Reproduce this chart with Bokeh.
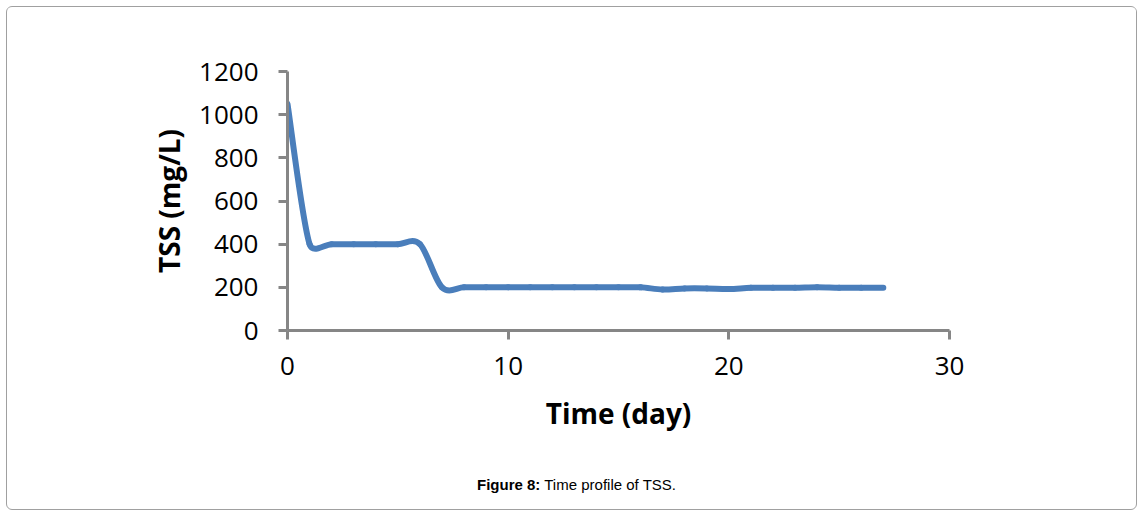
import math
from bokeh.plotting import figure
from bokeh.layouts import column
from bokeh.models import FixedTicker, Range1d, Div
from bokeh.embed import file_html
from bokeh.resources import INLINE

# ---- data ----
days = [0, 1, 2, 3, 4, 5, 6, 7, 8, 9, 10, 11, 12, 13, 14, 15, 16, 17, 18, 19,
        20, 21, 22, 23, 24, 25, 26, 27]
tss = [1050, 400, 400, 400, 400, 400, 400, 200, 200, 200, 200, 200, 200, 200,
       200, 200, 200, 190, 195, 195, 192, 198, 198, 198, 200, 198, 198, 198]
x_ticks = [0, 10, 20, 30]
y_ticks = [0, 200, 400, 600, 800, 1000, 1200]
x_title = "Time (day)"
y_title = "TSS (mg/L)"
caption_bold = "Figure 8:"
caption_text = "Time profile of TSS."

# ---- geometry ----
FIG_W, FIG_H = 1129, 460
CAP_H = 42
FL, FR, FT, FB = 280, 942, 64, 323
X0, X1, Y0, Y1 = 0, 30, 0, 1200
sx = (FR - FL) / (X1 - X0)
sy = (FB - FT) / (Y1 - Y0)

p = figure(width=FIG_W, height=FIG_H, output_backend="svg", toolbar_location=None,
           x_range=Range1d(X0, X1), y_range=Range1d(Y0, Y1),
           min_border_left=FL, min_border_right=FIG_W - FR,
           min_border_top=FT, min_border_bottom=FIG_H - FB)
p.outline_line_color = None
p.grid.grid_line_color = None
p.background_fill_color = "white"
p.border_fill_color = "white"

# Excel-like smoothed line: Bezier segments, control points computed in pixel space
px = [d * sx for d in days]
py = [v * sy for v in tss]
n = len(days)
seg = dict(x0=[], y0=[], x1=[], y1=[], cx0=[], cy0=[], cx1=[], cy1=[])
for i in range(n - 1):
    i0 = max(i - 1, 0)
    i3 = min(i + 2, n - 1)
    P0 = (px[i0], py[i0]); P1 = (px[i], py[i]); P2 = (px[i + 1], py[i + 1]); P3 = (px[i3], py[i3])
    d12 = math.hypot(P2[0] - P1[0], P2[1] - P1[1])
    d02 = math.hypot(P2[0] - P0[0], P2[1] - P0[1])
    d13 = math.hypot(P3[0] - P1[0], P3[1] - P1[1])
    f1 = 1 / 6 if d02 / 6 < d12 / 2 else (d12 / 2) / d02
    f2 = 1 / 6 if d13 / 6 < d12 / 2 else (d12 / 2) / d13
    c1 = (P1[0] + f1 * (P2[0] - P0[0]), P1[1] + f1 * (P2[1] - P0[1]))
    c2 = (P2[0] - f2 * (P3[0] - P1[0]), P2[1] - f2 * (P3[1] - P1[1]))
    seg["x0"].append(days[i]); seg["y0"].append(tss[i])
    seg["x1"].append(days[i + 1]); seg["y1"].append(tss[i + 1])
    seg["cx0"].append(c1[0] / sx); seg["cy0"].append(c1[1] / sy)
    seg["cx1"].append(c2[0] / sx); seg["cy1"].append(c2[1] / sy)

p.bezier(x0="x0", y0="y0", x1="x1", y1="y1", cx0="cx0", cy0="cy0", cx1="cx1", cy1="cy1",
         source=seg, line_color="#4a7ebb", line_width=6, line_cap="round", line_join="round")

# axes
for ax in (p.xaxis[0], p.yaxis[0]):
    ax.axis_line_color = "#868686"
    ax.axis_line_width = 3
    ax.major_tick_line_color = "#868686"
    ax.major_tick_line_width = 3
    ax.major_tick_in = 0
    ax.major_tick_out = 9
    ax.minor_tick_line_color = None
    ax.major_label_text_font = "Open Sans"
    ax.major_label_text_font_size = "26px"
    ax.major_label_text_color = "black"
    ax.axis_label_text_font = "Open Sans"
    ax.axis_label_text_font_style = "bold"
    ax.axis_label_text_font_size = "28px"
    ax.axis_label_text_color = "black"

p.xaxis.ticker = FixedTicker(ticks=x_ticks)
p.yaxis.ticker = FixedTicker(ticks=y_ticks)
p.xaxis.axis_label = x_title
p.yaxis.axis_label = y_title
p.xaxis.major_label_standoff = 17
p.yaxis.major_label_standoff = 20
p.xaxis.axis_label_standoff = 16
p.yaxis.axis_label_standoff = 8

caption = Div(text=f"<b>{caption_bold}</b> {caption_text}", width=FIG_W, height=CAP_H,
              styles={"text-align": "center", "font-family": "Liberation Sans, Arial, sans-serif",
                      "font-size": "15px", "color": "black", "padding-top": "2px",
                      "box-sizing": "border-box", "overflow": "hidden"})

layout = column(p, caption, spacing=0, width=FIG_W, height=FIG_H + CAP_H, sizing_mode="fixed",
                styles={"border": "1px solid #a0a0a0", "border-radius": "6px",
                        "margin": "6px 0 0 6px", "background-color": "white",
                        "box-sizing": "content-box", "overflow": "hidden"})

open("out.html", "w").write(file_html(layout, INLINE))
